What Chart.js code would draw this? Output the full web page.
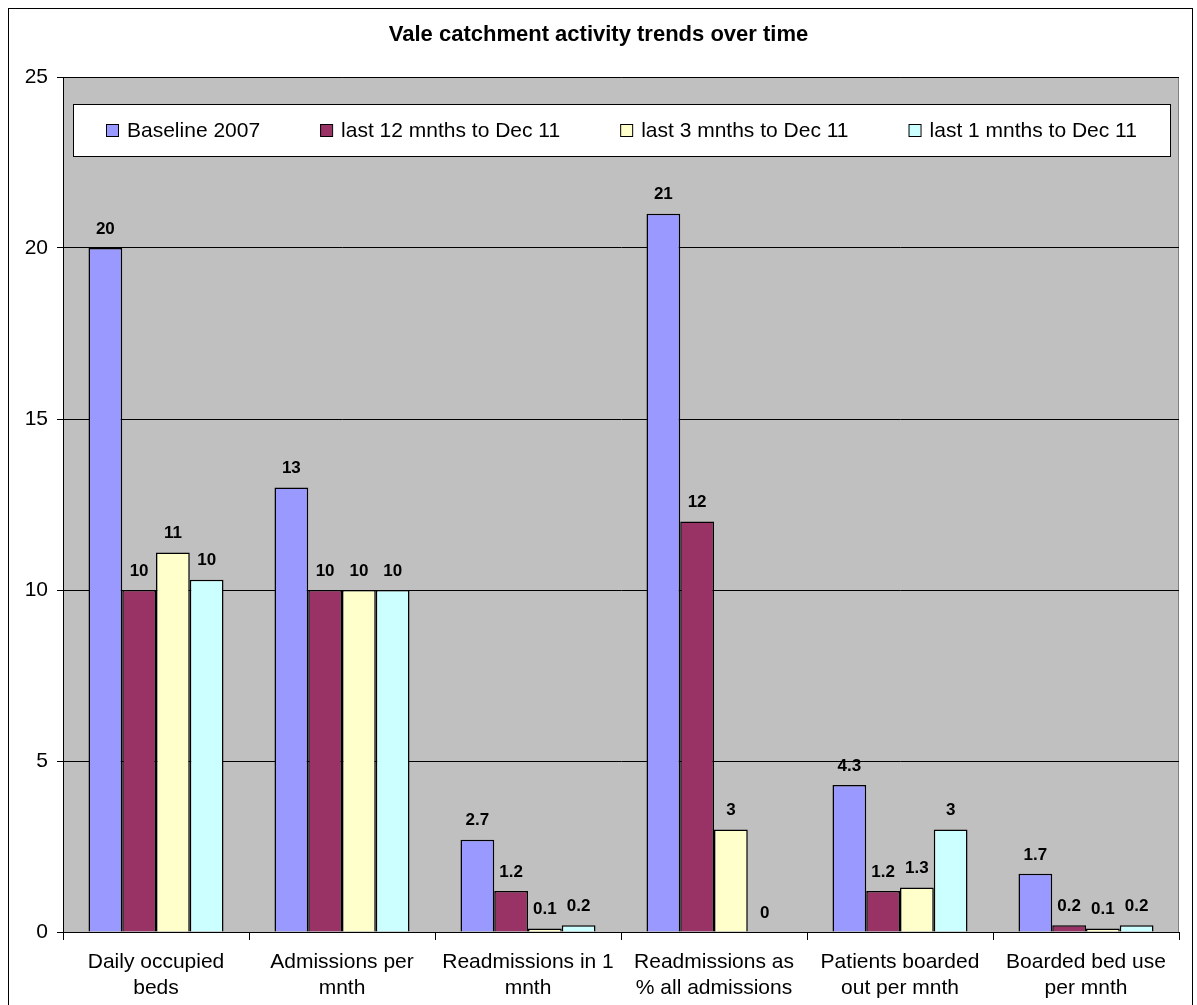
<!DOCTYPE html>
<html>
<head>
<meta charset="utf-8">
<title>Vale catchment activity trends over time</title>
<script src="https://cdn.jsdelivr.net/npm/chart.js@4.4.1/dist/chart.umd.min.js"></script>
<style>
  html, body { margin: 0; padding: 0; background: #ffffff; }
  #wrap { width: 1197px; height: 1005px; position: relative; }
</style>
</head>
<body>
<div id="wrap"><canvas id="barChart"></canvas></div>
<script>
const chartTitle = 'Vale catchment activity trends over time';

const categories = [
  ['Daily occupied', 'beds'],
  ['Admissions per', 'mnth'],
  ['Readmissions in 1', 'mnth'],
  ['Readmissions as', '% all admissions'],
  ['Patients boarded', 'out per mnth'],
  ['Boarded bed use', 'per mnth']
];

const seriesNames = ['Baseline 2007', 'last 12 mnths to Dec 11', 'last 3 mnths to Dec 11', 'last 1 mnths to Dec 11'];
const baseline2007 = [20, 13, 2.7, 21, 4.3, 1.7];
const last12 = [10, 10, 1.2, 12, 1.2, 0.2];
const last3 = [11.1, 10, 0.1, 3, 1.3, 0.1];
const last1 = [10.3, 10, 0.2, 0, 3, 0.2];

const yTicks = [0, 5, 10, 15, 20, 25];

const seriesColors = ['#9999FF', '#993366', '#FFFFCC', '#CCFFFF'];
const FONT = 'Arial, "Liberation Sans", sans-serif';

function fmt(v) {
  return v >= 10 ? String(Math.round(v)) : String(v);
}

// grey plot area + outer frame + title
const backdrop = {
  id: 'backdrop',
  beforeDraw(chart) {
    const { ctx, chartArea: a } = chart;
    ctx.save();
    ctx.fillStyle = '#ffffff';
    ctx.fillRect(0, 0, chart.width, chart.height);
    ctx.strokeStyle = '#000000';
    ctx.lineWidth = 1;
    ctx.strokeRect(8.5, 8.5, chart.width - 13, chart.height + 20);
    ctx.fillStyle = '#C0C0C0';
    ctx.fillRect(a.left, a.top, a.right - a.left, a.bottom - a.top);
    ctx.strokeStyle = '#808080';
    ctx.strokeRect(a.left + 0.5, a.top + 0.5, a.right - a.left - 1, a.bottom - a.top);
    ctx.fillStyle = '#000000';
    ctx.font = 'bold 22px ' + FONT;
    ctx.textAlign = 'center';
    ctx.textBaseline = 'middle';
    ctx.fillText(chartTitle, chart.width / 2, 35);
    ctx.restore();
  }
};

// value labels above bars
const valueLabels = {
  id: 'valueLabels',
  afterDatasetsDraw(chart) {
    const { ctx } = chart;
    ctx.save();
    ctx.fillStyle = '#000000';
    ctx.font = 'bold 17px ' + FONT;
    ctx.textAlign = 'center';
    ctx.textBaseline = 'middle';
    chart.data.datasets.forEach((ds, i) => {
      chart.getDatasetMeta(i).data.forEach((bar, j) => {
        ctx.fillText(fmt(ds.data[j]), bar.x, bar.y - 19);
      });
    });
    ctx.restore();
  }
};

// legend box inside plot area
const innerLegend = {
  id: 'innerLegend',
  afterDatasetsDraw(chart) {
    const { ctx, chartArea: a } = chart;
    const left = a.left + 10, top = a.top + 27;
    const w = a.right - a.left - 19, h = 52;
    ctx.save();
    ctx.fillStyle = '#ffffff';
    ctx.fillRect(left, top, w, h);
    ctx.strokeStyle = '#000000';
    ctx.lineWidth = 1;
    ctx.strokeRect(left + 0.5, top + 0.5, w, h);
    ctx.font = '21px ' + FONT;
    ctx.textBaseline = 'middle';
    ctx.textAlign = 'left';
    let x = left + 33;
    const cy = top + h / 2;
    chart.data.datasets.forEach((ds) => {
      ctx.fillStyle = ds.backgroundColor;
      ctx.fillRect(x, cy - 6, 12, 12);
      ctx.strokeStyle = '#000000';
      ctx.strokeRect(x + 0.5, cy - 5.5, 12, 12);
      ctx.fillStyle = '#000000';
      ctx.fillText(ds.label, x + 21, cy + 1);
      x += 21 + ctx.measureText(ds.label).width + 60;
    });
    ctx.restore();
  }
};

const ctx = document.getElementById('barChart').getContext('2d');

const seriesData = [baseline2007, last12, last3, last1];

new Chart(ctx, {
  type: 'bar',
  data: {
    labels: categories,
    datasets: seriesNames.map((name, i) => ({
      label: name,
      data: seriesData[i],
      backgroundColor: seriesColors[i],
      borderColor: '#000000',
      borderWidth: 1.5,
      categoryPercentage: 0.726,
      barPercentage: 1
    }))
  },
  options: {
    responsive: true,
    maintainAspectRatio: false,
    animation: false,
    layout: { padding: { left: 0, top: 77, right: 18, bottom: 0 } },
    plugins: {
      legend: { display: false },
      title: { display: false },
      tooltip: { enabled: false }
    },
    scales: {
      x: {
        grid: {
          display: true,
          drawOnChartArea: false,
          color: '#000000',
          tickLength: 8,
          offset: true
        },
        border: { color: '#000000' },
        ticks: {
          color: '#000000',
          font: { family: FONT, size: 21, lineHeight: 1.2 },
          maxRotation: 0,
          autoSkip: false,
          padding: 10
        },
        afterFit(scale) { scale.height = 73; }
      },
      y: {
        min: 0,
        max: 25,
        afterBuildTicks(scale) { scale.ticks = yTicks.map(v => ({ value: v })); },
        grid: {
          color: '#000000',
          lineWidth: 1,
          tickLength: 6
        },
        border: { color: '#000000' },
        ticks: {
          color: '#000000',
          font: { family: FONT, size: 21 },
          padding: 9
        },
        afterFit(scale) { scale.width = 63; }
      }
    }
  },
  plugins: [backdrop, valueLabels, innerLegend]
});
</script>
</body>
</html>
